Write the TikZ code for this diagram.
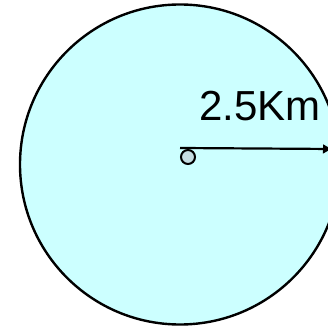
\documentclass[tikz,border=0pt]{standalone}
\usepackage{fontspec}
\setmainfont{Liberation Sans}
\usetikzlibrary{arrows.meta,positioning}

\definecolor{areacyan}{HTML}{CCFFFF}
\definecolor{dotgrey}{HTML}{C4DDE2}

\begin{document}
\begin{tikzpicture}[x=1pt,y=1pt,
    zone/.style={draw=black,line width=2.4pt,fill=areacyan},
    centredot/.style={circle,draw=black,line width=2pt,fill=dotgrey,minimum size=14pt,inner sep=0pt},
    radius arrow/.style={-{Latex[length=10pt,width=10pt]},line width=2.2pt}]
    \useasboundingbox (0,0) rectangle (328,326);
    \clip (0,0) rectangle (328,326);
    \node[zone,circle,minimum size=320pt,inner sep=0pt] (area) at (180,161.5) {};
    \node[centredot] (centre) at (188,169) {};
    \coordinate (rim) at (333,177);
    \draw[radius arrow] ([yshift=1pt]centre.north -| centre.west) -- (rim);
    \node[anchor=base west,inner sep=0pt,font=\fontsize{42}{46}\selectfont] (dist) at (199,205.5) {2.5Km};
  \end{tikzpicture}
\end{document}
